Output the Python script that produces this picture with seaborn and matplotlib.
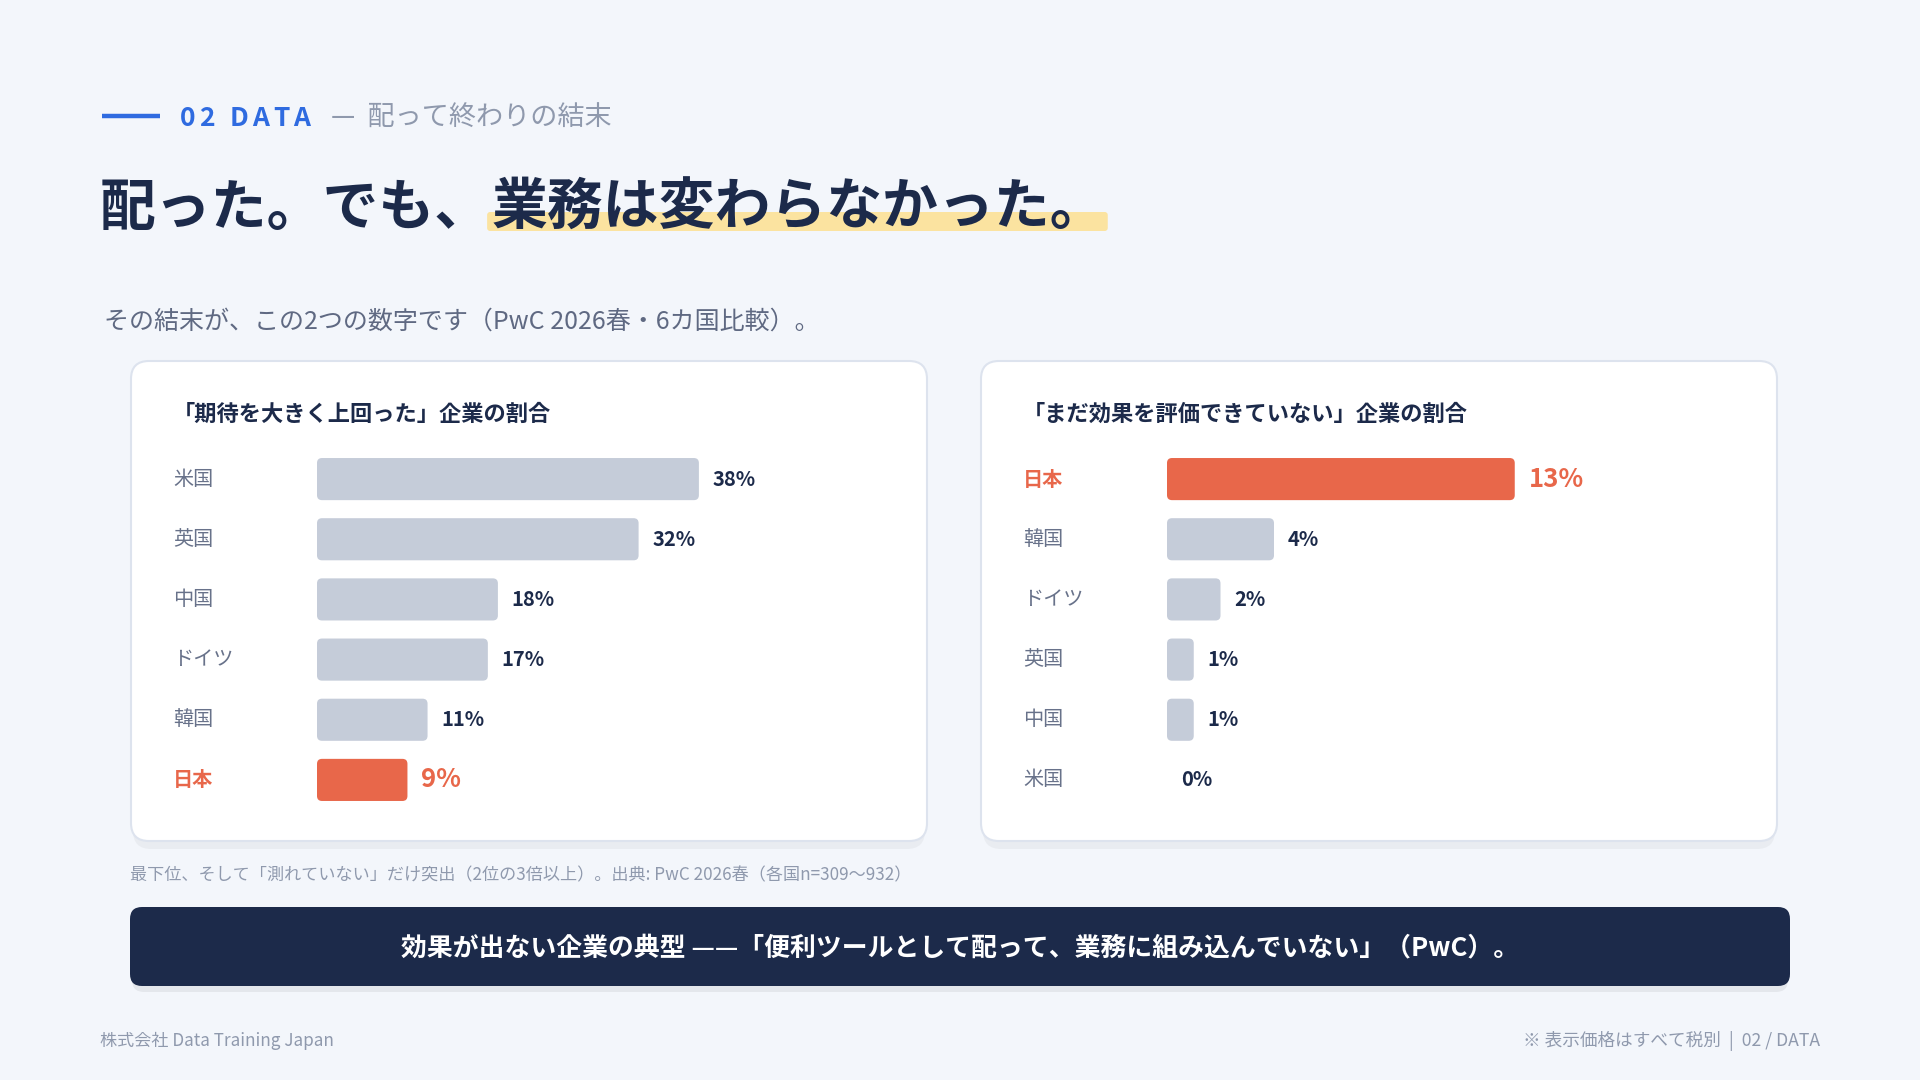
import matplotlib
matplotlib.use("Agg")
import matplotlib.pyplot as plt
import matplotlib.transforms as mtransforms
from matplotlib.patches import FancyBboxPatch
import seaborn as sns

# データ
left_title = "「期待を大きく上回った」企業の割合"
left_countries = ["米国", "英国", "中国", "ドイツ", "韓国", "日本"]
left_values = [38, 32, 18, 17, 11, 9]

right_title = "「まだ効果を評価できていない」企業の割合"
right_countries = ["日本", "韓国", "ドイツ", "英国", "中国", "米国"]
right_values = [13, 4, 2, 1, 1, 0]

highlight = "日本"

# 色
BG = "#f3f6fb"
NAVY = "#1c2a4a"
GRAY_BAR = "#c5ccd9"
RED = "#e8674a"
BLUE = "#2f6be0"
LABEL_GRAY = "#68728a"
MUTED = "#8f99ad"

sns.set_theme(style="white")
plt.rcParams["font.family"] = ["Noto Sans CJK JP", "DejaVu Sans"]

fig = plt.figure(figsize=(19.2, 10.8), dpi=100, facecolor=BG)

# 背景用の軸 (ピクセル座標)
bg = fig.add_axes([0, 0, 1, 1], zorder=0)
bg.set_xlim(0, 1920)
bg.set_ylim(1080, 0)
bg.axis("off")
bg.set_facecolor(BG)

fig.canvas.draw()
renderer = fig.canvas.get_renderer()


def rbox(x0, y0, x1, y1, r, **kw):
    p = FancyBboxPatch((x0, y0), x1 - x0, y1 - y0,
                       boxstyle=f"round,pad=0,rounding_size={r}", **kw)
    bg.add_patch(p)
    return p


# ヘッダー (字間を広げて1文字ずつ)
bg.plot([102, 160], [116, 116], color=BLUE, lw=3.2, solid_capstyle="butt")
x = 180
for ch in "02 DATA":
    if ch == " ":
        x += 10
        continue
    t = bg.text(x, 118, ch, color=BLUE, fontsize=19, fontweight="bold",
                va="center", ha="left")
    x = t.get_window_extent(renderer).x1 + 4
bg.text(331, 118, "—  配って終わりの結末", color=MUTED, fontsize=19.5,
        va="center", ha="left")

# タイトル
t1 = bg.text(100, 208, "配った。でも、", color=NAVY, fontsize=40.2,
             fontweight="bold", va="center", ha="left", zorder=3)
bb1 = t1.get_window_extent(renderer)
x_start = bb1.x1
t2 = bg.text(x_start, 208, "業務は変わらなかった。", color=NAVY, fontsize=40.2,
             fontweight="bold", va="center", ha="left", zorder=3)
bb2 = t2.get_window_extent(renderer)
rbox(x_start - 4, 212, bb2.x1 + 2, 231, 3, facecolor="#fbe3a0",
     edgecolor="none", zorder=2)

# サブタイトル
bg.text(104, 322, "その結末が、この2つの数字です（PwC 2026春・6カ国比較）。",
        color="#5f6982", fontsize=18, va="center", ha="left")

# カード
cards = [(131, 927), (981, 1777)]
for cx0, cx1 in cards:
    rbox(cx0 + 2, 367, cx1 - 2, 849, 18, facecolor="#000000", alpha=0.04,
         edgecolor="none", zorder=1)
    rbox(cx0, 361, cx1, 841, 18, facecolor="white", edgecolor="#dde3ee",
         lw=1.5, zorder=1.5)

# バナー
rbox(132, 912, 1788, 992, 12, facecolor="#000000", alpha=0.06,
     edgecolor="none", zorder=1)
rbox(130, 907, 1790, 986, 12, facecolor=NAVY, edgecolor="none", zorder=2)
bg.text(960, 948, "効果が出ない企業の典型 ——「便利ツールとして配って、業務に組み込んでいない」（PwC）。",
        color="white", fontsize=18.6, fontweight="bold", va="center",
        ha="center", zorder=3)

# 注記・フッター
bg.text(130, 875, "最下位、そして「測れていない」だけ突出（2位の3倍以上）。出典: PwC 2026春（各国n=309〜932）",
        color=MUTED, fontsize=12.3, va="center", ha="left")
bg.text(100, 1041, "株式会社 Data Training Japan", color=MUTED, fontsize=12.3,
        va="center", ha="left")
bg.text(1820, 1041, "※ 表示価格はすべて税別  |  02 / DATA", color=MUTED,
        fontsize=12.7, va="center", ha="right")


def draw_chart(card_x0, bar_x0, px_per_unit, title, countries, values):
    ax_w = 580
    ax = fig.add_axes([bar_x0 / 1920, 1 - 810 / 1080, ax_w / 1920, 361 / 1080],
                      zorder=2)
    ax.patch.set_alpha(0)
    sns.barplot(x=values, y=countries, color=GRAY_BAR, orient="h", width=0.7,
                saturation=1, ax=ax)
    ax.set_xlim(0, ax_w / px_per_unit)
    ax.set_ylim(len(countries) - 0.5, -0.5)
    ax.set_xlabel("")
    ax.set_ylabel("")
    ax.set_xticks([])
    ax.set_yticks([])
    for s in ax.spines.values():
        s.set_visible(False)

    # 数値ラベル
    texts = ax.bar_label(ax.containers[0], labels=[f"{v}%" for v in values],
                         padding=10)
    for txt, c in zip(texts, countries):
        if c == highlight:
            txt.set_color(RED)
            txt.set_fontsize(18.5)
            txt.set_fontweight("bold")
        else:
            txt.set_color(NAVY)
            txt.set_fontsize(14.5)
            txt.set_fontweight("bold")

    # 角丸バー
    px_per_y = 361 / len(countries)
    r = 5 / px_per_unit
    aspect = px_per_unit / px_per_y
    for p, c in zip(list(ax.patches), countries):
        x, y = p.get_x(), p.get_y()
        w, h = p.get_width(), p.get_height()
        p.set_visible(False)
        if w <= 0:
            continue
        col = RED if c == highlight else GRAY_BAR
        ax.add_patch(FancyBboxPatch((x, y), w, h,
                                    boxstyle=f"round,pad=0,rounding_size={r}",
                                    mutation_aspect=aspect, facecolor=col,
                                    edgecolor="none"))

    # 国名
    trans = mtransforms.blended_transform_factory(bg.transData, ax.transData)
    for i, c in enumerate(countries):
        if c == highlight:
            ax.text(card_x0 + 42, i, c, transform=trans, color=RED,
                    fontsize=14.5, fontweight="bold", va="center", ha="left")
        else:
            ax.text(card_x0 + 42, i, c, transform=trans, color=LABEL_GRAY,
                    fontsize=14.5, va="center", ha="left")

    bg.text(card_x0 + 42, 414, title, color=NAVY, fontsize=16,
            fontweight="bold", va="center", ha="left", zorder=3)


draw_chart(131, 317, 10.05, left_title, left_countries, left_values)
draw_chart(981, 1167, 26.75, right_title, right_countries, right_values)

fig.savefig("out.png", dpi=100, facecolor=BG)
